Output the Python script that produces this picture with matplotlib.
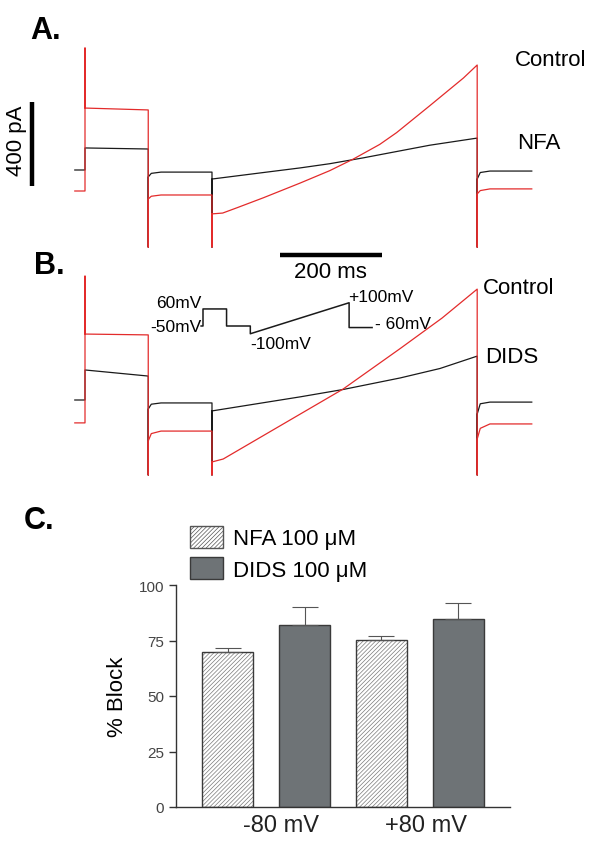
import numpy as np
import matplotlib
matplotlib.use("Agg")
from matplotlib import pyplot as plt
from matplotlib.patches import Patch

plt.rcParams['font.family'] = ['Liberation Sans', 'DejaVu Sans']
plt.rcParams['hatch.linewidth'] = 0.5

### DATA

# protocol epochs (ms): holding, +60 mV step, -50 mV, ramp -100 -> +100 mV, -60 mV tail
t_edges = [-20, 0, 124, 249, 769, 876]
settle_ms = [0, 6, 25]

# panel A, control (red) and NFA (black), currents in pA
a_ctrl_hold = -100
a_ctrl_peak = 581
a_ctrl_step = [295, 286]
a_ctrl_trough = -367
a_ctrl_mid = [-138, -125, -119]
a_ctrl_ramp_t = [249, 270, 300, 350, 422, 480, 526, 578, 611, 644, 676, 709, 742, 769]
a_ctrl_ramp_i = [-209, -205, -178, -132, -62, -3, 52, 122, 178, 243, 306, 372, 438, 500]
a_ctrl_tail = [-114, -98, -90]

a_nfa_hold = 0
a_nfa_peak = 105
a_nfa_step = [105, 100]
a_nfa_trough = -367
a_nfa_mid = [-33, -16, -10]
a_nfa_ramp_t = [249, 350, 422, 480, 546, 611, 676, 769]
a_nfa_ramp_i = [-43, -12, 10, 30, 58, 88, 118, 152]
a_nfa_tail = [-43, -12, -5]

# panel B, control (red) and DIDS (black)
b_ctrl_hold = -109
b_ctrl_peak = 590
b_ctrl_step = [314, 310]
b_ctrl_trough = -357
b_ctrl_mid = [-195, -160, -148]
b_ctrl_ramp_t = [249, 271, 422, 506, 618, 700, 769]
b_ctrl_ramp_i = [-295, -281, -67, 52, 245, 390, 528]
b_ctrl_tail = [-186, -135, -114]

b_dids_hold = 0
b_dids_peak = 143
b_dids_step = [143, 114]
b_dids_trough = -357
b_dids_mid = [-43, -20, -14]
b_dids_ramp_t = [249, 422, 506, 618, 696, 769]
b_dids_ramp_i = [-52, 15, 50, 105, 150, 209]
b_dids_tail = [-67, -18, -10]

# voltage protocol (inset), mV
prot_t = [-10, 0, 0, 124, 124, 249, 249, 769, 769, 890]
prot_v = [-50, -50, 60, 60, -50, -50, -100, 100, -60, -60]

# panel C, % block
groups = ['-80 mV', '+80 mV']
nfa_block = [70, 75.2]
nfa_err = [1.5, 1.8]
dids_block = [82, 84.7]
dids_err = [8, 7.2]

### LAYOUT

W, H = 602, 845
PX_PER_MS = 0.51
PX_PER_PA = 84 / 400
T0_PX = 85

RED = '#e32b2b'
BLK = '#1a1a1a'


def rect(left, top, right, bottom):
    return [left / W, 1 - bottom / H, (right - left) / W, (bottom - top) / H]


def build_trace(hold, peak, step, trough, mid, ramp_t, ramp_i, tail):
    e = t_edges
    t = [e[0], e[1], e[1], e[1], e[2], e[2]]
    i = [hold, hold, peak, step[0], step[1], trough]
    t += [e[2] + s for s in settle_ms] + [e[3], e[3]]
    i += list(mid) + [mid[-1], trough]
    t += list(ramp_t) + [e[4]]
    i += list(ramp_i) + [trough]
    t += [e[4] + s for s in settle_ms] + [e[5]]
    i += list(tail) + [tail[-1]]
    return np.array(t), np.array(i)


def trace_axes(top, bottom, zero_px):
    ax = fig.add_axes(rect(0, top, W, bottom))
    ax.set_xlim((0 - T0_PX) / PX_PER_MS, (W - T0_PX) / PX_PER_MS)
    ax.set_ylim((zero_px - bottom) / PX_PER_PA, (zero_px - top) / PX_PER_PA)
    ax.axis('off')
    return ax


fig = plt.figure(figsize=(W / 100, H / 100), dpi=100)

### PANEL A

axA = trace_axes(40, 250, 171)
tn, inn = build_trace(a_nfa_hold, a_nfa_peak, a_nfa_step, a_nfa_trough,
                      a_nfa_mid, a_nfa_ramp_t, a_nfa_ramp_i, a_nfa_tail)
tc, ic = build_trace(a_ctrl_hold, a_ctrl_peak, a_ctrl_step, a_ctrl_trough,
                     a_ctrl_mid, a_ctrl_ramp_t, a_ctrl_ramp_i, a_ctrl_tail)
axA.plot(tn, inn, color=BLK, lw=0.9)
axA.plot(tc, ic, color=RED, lw=0.9)
axA.plot([-103, -103], [-76, 324], color='black', lw=3.2, solid_capstyle='butt')
axA.text(-134, 143, '400 pA', rotation=90, ha='center', va='center', fontsize=16)
axA.text(843, 528, 'Control', ha='left', va='center', fontsize=16)
axA.text(847, 133, 'NFA', ha='left', va='center', fontsize=16)
fig.text(30 / W, 1 - 31 / H, 'A.', fontsize=22, fontweight='bold', va='center')

### PANEL B

axB = trace_axes(252, 480, 401)
td, idd = build_trace(b_dids_hold, b_dids_peak, b_dids_step, b_dids_trough,
                      b_dids_mid, b_dids_ramp_t, b_dids_ramp_i, b_dids_tail)
tc, ic = build_trace(b_ctrl_hold, b_ctrl_peak, b_ctrl_step, b_ctrl_trough,
                     b_ctrl_mid, b_ctrl_ramp_t, b_ctrl_ramp_i, b_ctrl_tail)
axB.plot(td, idd, color=BLK, lw=0.9)
axB.plot(tc, ic, color=RED, lw=0.9)
axB.plot([382, 582], [690, 690], color='black', lw=3.2, solid_capstyle='butt')
axB.text(482, 614, '200 ms', ha='center', va='center', fontsize=16)
axB.text(780, 538, 'Control', ha='left', va='center', fontsize=16)
axB.text(784, 209, 'DIDS', ha='left', va='center', fontsize=16)
fig.text(34 / W, 1 - 266 / H, 'B.', fontsize=22, fontweight='bold', va='center')

# voltage protocol inset
axP = fig.add_axes(rect(190, 295, 390, 345))
axP.set_xlim((190 - 203) / 0.19, (390 - 203) / 0.19)
axP.set_ylim(-50 - (345 - 327) / 0.155, -50 + (327 - 295) / 0.155)
axP.axis('off')
axP.plot(prot_t, prot_v, color=BLK, lw=1.1)
axP.text(-8, 103, '60mV', ha='right', va='center', fontsize=12.5)
axP.text(-8, -50, '-50mV', ha='right', va='center', fontsize=12.5)
axP.text(247, -166, '-100mV', ha='left', va='center', fontsize=12.5)
axP.text(763, 143, '+100mV', ha='left', va='center', fontsize=12.5)
axP.text(905, -37, '- 60mV', ha='left', va='center', fontsize=12.5)

### PANEL C

axC = fig.add_axes(rect(176, 586, 510, 808))
x = np.arange(len(groups)) * 2
bw = 0.66
axC.bar(x, nfa_block, bw, color='white', edgecolor='#7a7a7a', hatch='////////', lw=0)
axC.bar(x, nfa_block, bw, color='none', edgecolor='#3a3a3a', lw=1.0)
axC.bar(x + 1, dids_block, bw, color='#6e7376', edgecolor='#3a3a3a', lw=1.0)
axC.errorbar(x, nfa_block, yerr=[np.zeros(2), nfa_err], fmt='none',
             ecolor='#555555', elinewidth=0.8, capsize=9.5, capthick=0.8)
axC.errorbar(x + 1, dids_block, yerr=[np.zeros(2), dids_err], fmt='none',
             ecolor='#555555', elinewidth=0.8, capsize=9.5, capthick=0.8)
axC.set_xlim(-0.669, 3.669)
axC.set_ylim(0, 100)
axC.set_yticks([0, 25, 50, 75, 100])
axC.tick_params(axis='y', labelsize=11, labelcolor='#444444', length=5, width=1, color='#333333')
axC.set_xticks([0.7, 2.58])
axC.set_xticklabels(groups, fontsize=17, color='#222222')
axC.tick_params(axis='x', length=0, pad=5)
for s in ['top', 'right']:
    axC.spines[s].set_visible(False)
for s in ['left', 'bottom']:
    axC.spines[s].set_color('#333333')
    axC.spines[s].set_linewidth(1.0)
axC.set_ylabel('% Block', fontsize=16, labelpad=8)

handles = [Patch(facecolor='white', edgecolor='#555555', hatch='////////', lw=1.0),
           Patch(facecolor='#6e7376', edgecolor='#3a3a3a', lw=1.0)]
fig.legend(handles, ['NFA 100 μM', 'DIDS 100 μM'], loc='upper left',
           bbox_to_anchor=(190 / W, 1 - 527 / H), frameon=False, fontsize=16,
           borderpad=0, borderaxespad=0, handlelength=1.49, handleheight=1.13,
           handletextpad=0.45, labelspacing=0.36)
fig.text(24 / W, 1 - 521 / H, 'C.', fontsize=22, fontweight='bold', va='center')

fig.savefig('out.png', dpi=100)
